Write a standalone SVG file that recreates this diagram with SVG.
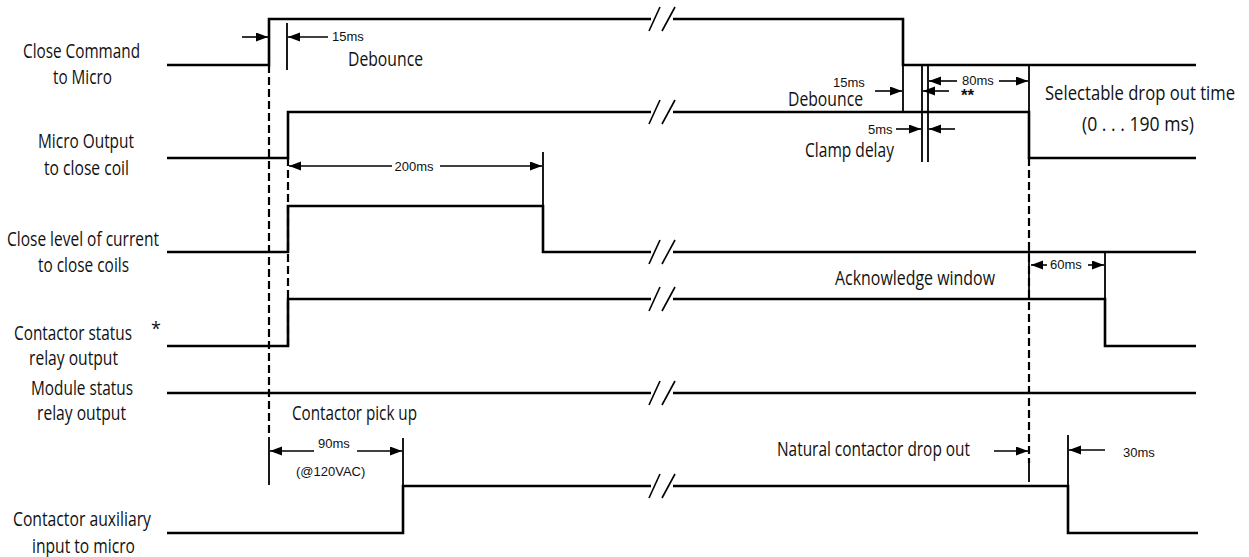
<svg xmlns="http://www.w3.org/2000/svg" width="1249" height="557" viewBox="0 0 1249 557">
<style>
.sig{fill:none;stroke:#000;stroke-width:2.6;stroke-linejoin:miter;stroke-linecap:butt}
.brk{stroke:#000;stroke-width:1.6}
.mk{stroke:#000;stroke-width:1.8;fill:none}
.dash{stroke:#000;stroke-width:2.2;stroke-dasharray:8 4;fill:none}
.arr{stroke:#000;stroke-width:1.6;fill:none;marker-end:url(#ah)}
.t{font-family:"Open Sans","DejaVu Sans Condensed",sans-serif;font-size:19.5px;fill:#111}
.s{font-family:"Liberation Sans",Arial,sans-serif;font-size:13px;fill:#111}
</style>
<defs>
<marker id="ah" markerUnits="userSpaceOnUse" markerWidth="13" markerHeight="10" refX="12" refY="4.5" orient="auto">
<path d="M0,0 L12,4.5 L0,9 z" fill="#000"/>
</marker>
</defs>

<g id="labels">
<text class="t" x="81.5" y="58" text-anchor="middle" textLength="117" lengthAdjust="spacingAndGlyphs">Close Command</text>
<text class="t" x="82.5" y="84" text-anchor="middle" textLength="59" lengthAdjust="spacingAndGlyphs">to Micro</text>
<text class="t" x="86" y="148" text-anchor="middle" textLength="96" lengthAdjust="spacingAndGlyphs">Micro Output</text>
<text class="t" x="86.5" y="175" text-anchor="middle" textLength="85" lengthAdjust="spacingAndGlyphs">to close coil</text>
<text class="t" x="83" y="246" text-anchor="middle" textLength="152" lengthAdjust="spacingAndGlyphs">Close level of current</text>
<text class="t" x="83.5" y="272" text-anchor="middle" textLength="91" lengthAdjust="spacingAndGlyphs">to close coils</text>
<text class="t" transform="translate(73,340) scale(0.8,1)" x="0" y="0" text-anchor="middle" textLength="147.5" lengthAdjust="spacingAndGlyphs">Contactor status</text>
<text class="t" x="156" y="335" text-anchor="middle" style="font-size:18px">*</text>
<text class="t" x="73.5" y="365" text-anchor="middle" textLength="89" lengthAdjust="spacingAndGlyphs">relay output</text>
<text class="t" x="82" y="395" text-anchor="middle" textLength="102" lengthAdjust="spacingAndGlyphs">Module status</text>
<text class="t" x="81.5" y="420" text-anchor="middle" textLength="89" lengthAdjust="spacingAndGlyphs">relay output</text>
<text class="t" x="82" y="526" text-anchor="middle" textLength="138" lengthAdjust="spacingAndGlyphs">Contactor auxiliary</text>
<text class="t" x="83.5" y="553" text-anchor="middle" textLength="103" lengthAdjust="spacingAndGlyphs">input to micro</text>
</g>

<g id="sig-close-command">
<path class="sig" d="M167,65 H269 V19 H651"/>
<path class="sig" d="M673,19 H903 V65 H1196"/>
<line class="brk" x1="649" y1="31" x2="660" y2="7"/><line class="brk" x1="662" y1="31" x2="675" y2="7"/>
</g>
<g id="sig-micro-output">
<path class="sig" d="M167,158 H288 V112 H651"/>
<path class="sig" d="M673,112 H1029 V158 H1196"/>
<line class="brk" x1="649" y1="124" x2="660" y2="100"/><line class="brk" x1="662" y1="124" x2="675" y2="100"/>
</g>
<g id="sig-close-level">
<path class="sig" d="M167,252 H288 V206 H543 V252 H651"/>
<path class="sig" d="M673,252 H1196"/>
<line class="brk" x1="649" y1="264" x2="660" y2="240"/><line class="brk" x1="662" y1="264" x2="675" y2="240"/>
</g>
<g id="sig-contactor-status">
<path class="sig" d="M167,346 H288 V299 H651"/>
<path class="sig" d="M673,299 H1105 V346 H1196"/>
<line class="brk" x1="649" y1="311" x2="660" y2="287"/><line class="brk" x1="662" y1="311" x2="675" y2="287"/>
</g>
<g id="sig-module-status">
<path class="sig" d="M167,393 H651"/>
<path class="sig" d="M673,393 H1196"/>
<line class="brk" x1="649" y1="405" x2="660" y2="381"/><line class="brk" x1="662" y1="405" x2="675" y2="381"/>
</g>
<g id="sig-aux">
<path class="sig" d="M167,533 H403 V486 H651"/>
<path class="sig" d="M673,486 H1068 V533 H1198"/>
<line class="brk" x1="649" y1="498" x2="660" y2="474"/><line class="brk" x1="662" y1="498" x2="675" y2="474"/>
</g>

<g id="connectors">
<line class="dash" x1="269" y1="65" x2="269" y2="437"/>
<line class="dash" x1="288" y1="158" x2="288" y2="346"/>
<line class="dash" x1="1029" y1="158" x2="1029" y2="463"/>
<line class="mk" x1="269" y1="437" x2="269" y2="485"/>
<line class="mk" x1="287" y1="23" x2="287" y2="70"/>
<line class="mk" x1="903" y1="65" x2="903" y2="112"/>
<line class="mk" x1="922" y1="66" x2="922" y2="162"/>
<line class="mk" x1="928" y1="66" x2="928" y2="162"/>
<line class="mk" x1="1029" y1="66" x2="1029" y2="112"/>
<line class="mk" x1="543" y1="152" x2="543" y2="206"/>
<line class="mk" x1="1105" y1="252" x2="1105" y2="299"/>
<line class="mk" x1="1029" y1="245" x2="1029" y2="300"/>
<line class="mk" x1="1029" y1="463" x2="1029" y2="482"/>
<line class="mk" x1="403" y1="438" x2="403" y2="486"/>
<line class="mk" x1="1068" y1="435" x2="1068" y2="486"/>

<line class="arr" x1="242" y1="37" x2="268" y2="37"/>
<line class="arr" x1="328" y1="37" x2="288" y2="37"/>
<line class="arr" x1="875" y1="91" x2="902" y2="91"/>
<line class="arr" x1="957" y1="81" x2="929" y2="81"/>
<line class="arr" x1="999" y1="81" x2="1028" y2="81"/>
<line class="arr" x1="949" y1="91" x2="923" y2="91"/>
<line class="arr" x1="896" y1="129" x2="921" y2="129"/>
<line class="arr" x1="955" y1="129" x2="929" y2="129"/>
<line class="arr" x1="392" y1="166" x2="289" y2="166"/>
<line class="arr" x1="440" y1="166" x2="542" y2="166"/>
<line class="arr" x1="1047" y1="265" x2="1031" y2="265"/>
<line class="arr" x1="1088" y1="265" x2="1104" y2="265"/>
<line class="arr" x1="314" y1="451" x2="270" y2="451"/>
<line class="arr" x1="357" y1="451" x2="402" y2="451"/>
<line class="arr" x1="994" y1="451" x2="1028" y2="451"/>
<line class="arr" x1="1105" y1="450" x2="1069" y2="450"/>
</g>

<g id="annotations">
<text class="s" x="332" y="41">15ms</text>
<text class="t" x="348" y="66" textLength="75" lengthAdjust="spacingAndGlyphs">Debounce</text>
<text class="s" x="833" y="87">15ms</text>
<text class="t" transform="translate(788,106) scale(0.8,1)" x="0" y="0" textLength="93.75" lengthAdjust="spacingAndGlyphs">Debounce</text>
<text class="s" x="962" y="85">80ms</text>
<text x="961" y="101" style="font-family:'Liberation Sans',Arial,sans-serif;font-size:17px;font-weight:bold;fill:#111">**</text>
<text class="s" x="868" y="134">5ms</text>
<text class="t" x="805" y="157" textLength="89" lengthAdjust="spacingAndGlyphs">Clamp delay</text>
<text class="t" transform="translate(1045,100) scale(0.8,1)" x="0" y="0" textLength="237.5" lengthAdjust="spacingAndGlyphs">Selectable drop out time</text>
<text class="t" x="1082" y="131" textLength="112" lengthAdjust="spacingAndGlyphs">(0 . . . 190 ms)</text>
<text class="s" x="394.5" y="171">200ms</text>
<text class="t" x="835" y="285" textLength="160" lengthAdjust="spacingAndGlyphs">Acknowledge window</text>
<text class="s" x="1050" y="269">60ms</text>
<text class="t" x="292" y="420" textLength="125" lengthAdjust="spacingAndGlyphs">Contactor pick up</text>
<text class="s" x="318" y="448">90ms</text>
<text class="s" x="296" y="476">(@120VAC)</text>
<text class="t" x="777" y="456" textLength="193" lengthAdjust="spacingAndGlyphs">Natural contactor drop out</text>
<text class="s" x="1123" y="457">30ms</text>
</g>
</svg>
